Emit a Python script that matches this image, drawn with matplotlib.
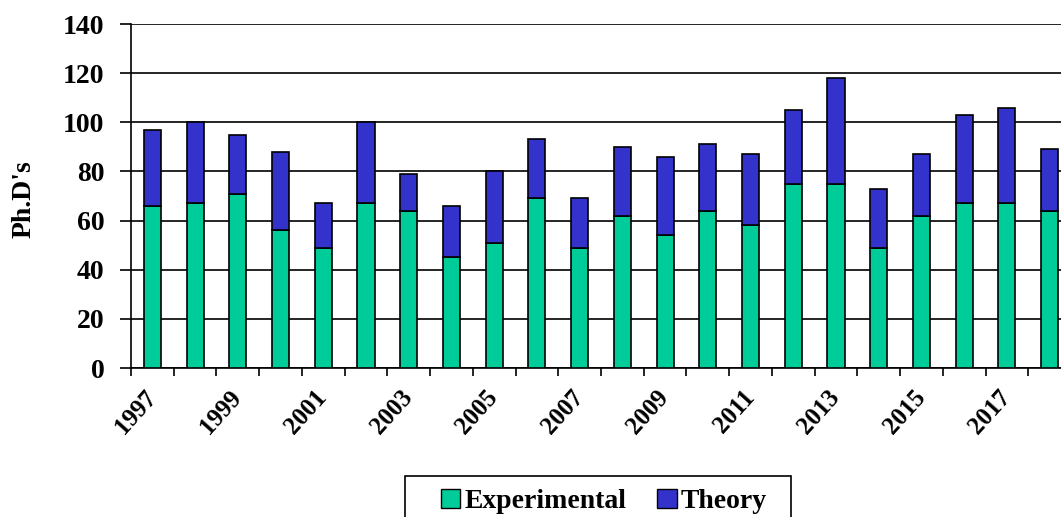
import numpy as np
import matplotlib
matplotlib.use("Agg")
import matplotlib.pyplot as plt
from matplotlib.patches import Rectangle
from matplotlib.transforms import ScaledTranslation

years = list(range(1997, 2019))
experimental = [66, 67, 71, 56, 49, 67, 64, 45, 51, 69, 49,
                62, 54, 64, 58, 75, 75, 49, 62, 67, 67, 64]
total = [97, 100, 95, 88, 67, 100, 79, 66, 80, 93, 69,
         90, 86, 91, 87, 105, 118, 73, 87, 103, 106, 89]
theory = [t - e for t, e in zip(total, experimental)]
y_ticks = [0, 20, 40, 60, 80, 100, 120, 140]

GREEN = "#00CC99"
BLUE = "#3333CC"
SERIF = "Liberation Serif"
W, H = 1061, 517

fig = plt.figure(figsize=(W / 100, H / 100), dpi=100)
fig.patch.set_facecolor("white")
ax = fig.add_axes([131 / W, 1 - 368 / H, 940 / W, 344 / H])

x = np.arange(len(years))
ax.bar(x, experimental, width=0.4, color=GREEN, edgecolor="black",
       linewidth=1.2, label="Experimental", zorder=3)
ax.bar(x, theory, width=0.4, bottom=experimental, color=BLUE,
       edgecolor="black", linewidth=1.2, label="Theory", zorder=3)

ax.set_xlim(-0.5, len(years) - 0.5)
ax.set_ylim(0, 140)
ax.set_yticks(y_ticks)
ax.yaxis.grid(True, color="black", linewidth=1.2, zorder=0)

# tick marks sit between categories, labels every other year at centers
ax.set_xticks(np.arange(-0.5, len(years)), labels=[])
ax.set_xticks(x[::2], labels=[str(y) for y in years[::2]], minor=True)
ax.tick_params(axis="x", which="major", length=6, width=1.2, direction="out")
ax.tick_params(axis="x", which="minor", length=0, pad=13)
ax.tick_params(axis="y", length=8, width=1.2, pad=11)
shift = ScaledTranslation(6 / 72, 0, fig.dpi_scale_trans)
for lab in ax.get_xticklabels(minor=True):
    lab.set_rotation(48)
    lab.set_ha("right")
    lab.set_fontfamily(SERIF)
    lab.set_fontweight("bold")
    lab.set_fontsize(18)
    lab.set_transform(lab.get_transform() + shift)
for lab in ax.get_yticklabels():
    lab.set_fontfamily(SERIF)
    lab.set_fontweight("bold")
    lab.set_fontsize(20)

ax.set_ylabel("Ph.D's", fontfamily=SERIF, fontweight="bold", fontsize=20)
ax.yaxis.set_label_coords(-0.100, 0.49)
for spine in ("left", "bottom"):
    ax.spines[spine].set_linewidth(1.2)
ax.spines["top"].set_visible(False)
ax.spines["right"].set_visible(False)

leg = fig.legend(loc="upper left", bbox_to_anchor=(441 / W, 1 - 489 / H),
                 ncol=2, frameon=False, borderpad=0, borderaxespad=0,
                 handlelength=0.7, handleheight=0.7, handletextpad=0.15,
                 columnspacing=1.1,
                 prop={"family": SERIF, "weight": "bold", "size": 20})
for h in leg.legend_handles:
    h.set_linewidth(1.0)
fig.patches.append(Rectangle((405 / W, -0.05), 386 / W, 0.05 + (H - 476) / H,
                             transform=fig.transFigure, fill=False,
                             edgecolor="black", linewidth=1.2))

fig.savefig("out.png", dpi=100, facecolor="white")
